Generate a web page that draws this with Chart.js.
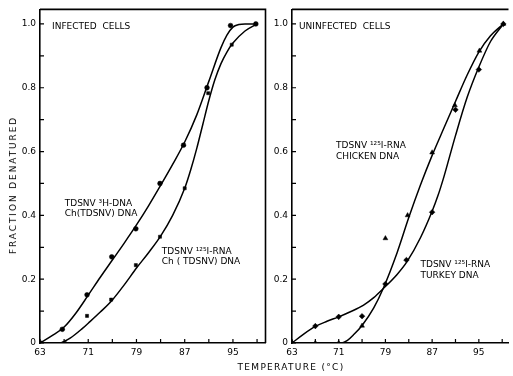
<!DOCTYPE html>
<html>
<head>
<meta charset="utf-8">
<script src="https://cdn.jsdelivr.net/npm/chart.js@4.4.1/dist/chart.umd.min.js"></script>
<style>
  html, body { margin: 0; padding: 0; background: #fff; overflow: hidden; }
  #wrap { position: relative; width: 513px; height: 376px; }
  canvas { position: absolute; top: 0; }
  #leftChart { left: 0; }
  #rightChart { left: 270px; }
  .axis-title { position: absolute; font-family: "DejaVu Sans", sans-serif; font-size: 9px; color: #000; white-space: nowrap; }
  #y-title { left: 13px; top: 185px; transform: translate(-50%, -50%) rotate(-90deg); letter-spacing: 1.9px; }
  #x-title { left: 291px; top: 367px; transform: translate(-50%, -50%); letter-spacing: 1.3px; }
</style>
</head>
<body>
<div id="wrap">
  <canvas id="leftChart" width="270" height="376"></canvas>
  <canvas id="rightChart" width="243" height="376"></canvas>
  <div class="axis-title" id="y-title">FRACTION DENATURED</div>
  <div class="axis-title" id="x-title">TEMPERATURE (°C)</div>
</div>
<script>
const xTicks = [63, 67, 71, 75, 79, 83, 87, 91, 95, 99];
const xLabels = [63, 71, 79, 87, 95];
const yTicks = [0, 0.1, 0.2, 0.3, 0.4, 0.5, 0.6, 0.7, 0.8, 0.9, 1.0];
const yLabels = ['0', '', '0.2', '', '0.4', '', '0.6', '', '0.8', '', '1.0'];

// infected cells
const dnaTemps = [63, 66.7, 70.8, 74.9, 78.9, 82.9, 86.8, 90.7, 94.6, 98.8];
const dnaValues = [0, 0.043, 0.151, 0.27, 0.358, 0.50, 0.62, 0.80, 0.995, 1.0];
const dnaCurveTemps = [63, 65, 67, 69, 71, 73, 75, 77, 79, 81, 83, 85, 87, 89, 91, 93, 94, 95, 96, 97, 99];
const dnaCurveValues = [0, 0.023, 0.05, 0.095, 0.15, 0.206, 0.26, 0.314, 0.37, 0.43, 0.494, 0.56, 0.63, 0.715, 0.82, 0.925, 0.965, 0.99, 0.998, 1.0, 1.0];

const rnaTemps = [67.1, 70.8, 74.8, 78.9, 82.9, 87.0, 90.9, 94.8];
const rnaValues = [0, 0.085, 0.136, 0.244, 0.333, 0.485, 0.783, 0.935];
const rnaCurveTemps = [66.5, 68, 70, 71, 73, 75, 77, 79, 81, 83, 85, 87, 88, 89, 90, 91, 92, 93, 94, 95, 97, 99];
const rnaCurveValues = [0, 0.015, 0.045, 0.062, 0.097, 0.135, 0.183, 0.235, 0.283, 0.335, 0.40, 0.485, 0.543, 0.61, 0.685, 0.76, 0.825, 0.875, 0.912, 0.94, 0.978, 1.0];

// uninfected cells
const chickenTemps = [63, 67, 71, 75, 79, 82.8, 87, 90.9, 95.1, 99.2];
const chickenValues = [0, 0, 0, 0.054, 0.328, 0.40, 0.597, 0.745, 0.916, 1.0];
const chickenCurveTemps = [63, 71.5, 72.5, 73.5, 75, 77, 78.6, 81, 83, 85, 87, 89, 91, 93, 95, 97, 99.2];
const chickenCurveValues = [0, 0, 0.008, 0.025, 0.055, 0.11, 0.17, 0.283, 0.393, 0.495, 0.588, 0.673, 0.757, 0.84, 0.912, 0.963, 1.0];

const turkeyTemps = [63, 67, 71, 75, 79, 82.6, 87, 91, 95, 99.2];
const turkeyValues = [0, 0.053, 0.082, 0.084, 0.185, 0.26, 0.41, 0.731, 0.857, 1.0];
const turkeyCurveTemps = [63, 65, 67, 69, 71, 73, 75.2, 77, 78.6, 81, 82.7, 85, 87, 88, 89, 90, 91, 93, 95, 97, 99.2];
const turkeyCurveValues = [0, 0.028, 0.052, 0.068, 0.082, 0.098, 0.118, 0.142, 0.17, 0.215, 0.255, 0.33, 0.413, 0.462, 0.52, 0.585, 0.65, 0.77, 0.865, 0.945, 1.0];

const font = { family: 'DejaVu Sans', size: 9 };
const toPoints = (xs, ys) => xs.map((x, i) => ({ x: x, y: ys[i] }));

const curve = (xs, ys) => ({
  data: toPoints(xs, ys),
  showLine: true,
  borderColor: '#000',
  borderWidth: 1.5,
  pointRadius: 0,
  cubicInterpolationMode: 'monotone'
});

const marks = (xs, ys, style, r) => ({
  data: toPoints(xs, ys),
  showLine: false,
  pointStyle: style,
  pointRadius: r,
  backgroundColor: '#000',
  borderColor: '#000',
  borderWidth: 0.5
});

// top/right frame and the small inward ticks
const frame = {
  id: 'frame',
  afterDraw(chart, args, opts) {
    const { ctx, chartArea: a } = chart;
    const xs = chart.scales.x, ys = chart.scales.y;
    ctx.save();
    ctx.strokeStyle = '#000';
    ctx.lineWidth = 1.6;
    ctx.beginPath();
    ctx.moveTo(a.left, a.top);
    ctx.lineTo(a.right, a.top);
    if (opts.right) ctx.lineTo(a.right, a.bottom);
    ctx.stroke();
    ctx.lineWidth = 1.2;
    ctx.beginPath();
    xTicks.forEach(t => {
      const px = xs.getPixelForValue(t);
      ctx.moveTo(px, a.bottom);
      ctx.lineTo(px, a.bottom - 4);
    });
    yTicks.forEach(t => {
      const py = ys.getPixelForValue(t);
      ctx.moveTo(a.left, py);
      ctx.lineTo(a.left + 4, py);
    });
    ctx.stroke();
    ctx.restore();
  }
};

const notes = {
  id: 'notes',
  afterDatasetsDraw(chart, args, opts) {
    const ctx = chart.ctx;
    ctx.save();
    ctx.font = '9px "DejaVu Sans"';
    ctx.fillStyle = '#000';
    ctx.textBaseline = 'middle';
    opts.items.forEach(n => {
      ctx.fillText(n.text, chart.scales.x.getPixelForValue(n.x), chart.scales.y.getPixelForValue(n.y));
    });
    ctx.restore();
  }
};

function makeOptions(yWidth, padRight, xMax, items, rightBorder) {
  return {
    responsive: false,
    animation: false,
    layout: { padding: { top: 6, right: padRight, left: 0, bottom: 0 } },
    plugins: {
      legend: { display: false },
      tooltip: { enabled: false },
      notes: { items: items },
      frame: { right: rightBorder }
    },
    scales: {
      x: {
        type: 'linear',
        min: 63,
        max: xMax,
        afterBuildTicks: s => { s.ticks = xTicks.map(v => ({ value: v })); },
        afterFit: s => { s.height = 33; },
        grid: { display: false, drawTicks: false },
        border: { display: true, color: '#000', width: 1.6 },
        ticks: {
          autoSkip: false, maxRotation: 0, padding: 4, color: '#000', font: font,
          callback: v => xLabels.includes(v) ? String(v) : ''
        }
      },
      y: {
        type: 'linear',
        min: 0,
        max: 1.0456,
        afterBuildTicks: s => { s.ticks = yTicks.map(v => ({ value: v })); },
        afterFit: s => { s.width = yWidth; },
        grid: { display: false, drawTicks: false },
        border: { display: true, color: '#000', width: 1.6 },
        ticks: {
          autoSkip: false, padding: 4, color: '#000', font: font,
          callback: (v, i) => yLabels[i]
        }
      }
    }
  };
}

new Chart(document.querySelector('#leftChart'), {
  type: 'scatter',
  data: {
    datasets: [
      curve(dnaCurveTemps, dnaCurveValues),
      curve(rnaCurveTemps, rnaCurveValues),
      marks(dnaTemps, dnaValues, 'circle', 2.4),
      marks(rnaTemps, rnaValues, 'rect', 2.2)
    ]
  },
  options: makeOptions(40, 4, 100.4, [
    { x: 65, y: 0.99, text: 'INFECTED  CELLS' },
    { x: 67.1, y: 0.437, text: 'TDSNV ³H-DNA' },
    { x: 67.1, y: 0.406, text: 'Ch(TDSNV) DNA' },
    { x: 83.2, y: 0.285, text: 'TDSNV ¹²⁵I-RNA' },
    { x: 83.2, y: 0.254, text: 'Ch ( TDSNV) DNA' }
  ], true),
  plugins: [frame, notes]
});

new Chart(document.querySelector('#rightChart'), {
  type: 'scatter',
  data: {
    datasets: [
      curve(chickenCurveTemps, chickenCurveValues),
      curve(turkeyCurveTemps, turkeyCurveValues),
      marks(chickenTemps, chickenValues, 'triangle', 2.8),
      marks(turkeyTemps, turkeyValues, 'rectRot', 2.8)
    ]
  },
  options: makeOptions(22, 0, 100.08, [
    { x: 64.2, y: 0.99, text: 'UNINFECTED  CELLS' },
    { x: 70.55, y: 0.62, text: 'TDSNV ¹²⁵I-RNA' },
    { x: 70.55, y: 0.583, text: 'CHICKEN DNA' },
    { x: 85.0, y: 0.245, text: 'TDSNV ¹²⁵I-RNA' },
    { x: 85.0, y: 0.211, text: 'TURKEY DNA' }
  ], false),
  plugins: [frame, notes]
});
</script>
</body>
</html>
